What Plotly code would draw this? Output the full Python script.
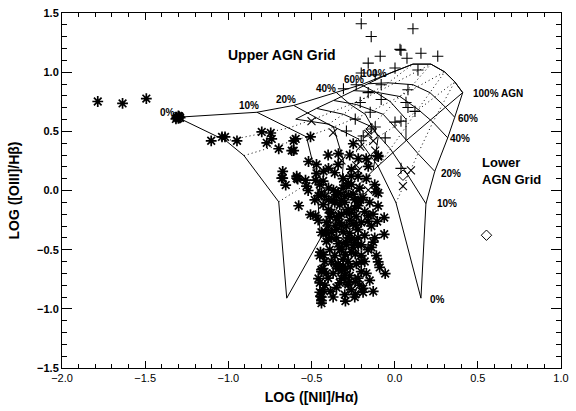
import plotly.graph_objects as go

# ---------------- data ----------------
# Upper AGN mixing grid: rows = starburst models, columns = AGN fraction 0,10,20,40,60,100 %
UPPER_X = [
    [-1.307, -0.828, -0.607, -0.350, -0.201, 0.110],
    [-1.014, -0.637, -0.470, -0.267, -0.111, 0.218],
    [-0.906, -0.530, -0.368, -0.177, -0.027, 0.301],
    [-0.697, -0.470, -0.308, -0.099, 0.068, 0.361],
    [-0.649, -0.446, -0.326, -0.129, 0.068, 0.409],
]
UPPER_Y = [
    [0.619, 0.661, 0.719, 0.827, 0.894, 1.068],
    [0.420, 0.528, 0.611, 0.727, 0.827, 1.068],
    [0.295, 0.453, 0.536, 0.644, 0.752, 1.002],
    [-0.096, 0.104, 0.254, 0.453, 0.603, 0.919],
    [-0.910, -0.411, -0.104, 0.170, 0.420, 0.827],
]
# Lower AGN mixing grid
LOWER_X = [
    [0.158, 0.188, 0.241, 0.319, 0.361, 0.409],
    [0.008, 0.080, 0.140, 0.230, 0.289, 0.361],
    [-0.099, -0.027, 0.038, 0.140, 0.212, 0.301],
    [-0.219, -0.147, -0.069, 0.032, 0.110, 0.218],
    [-0.398, -0.308, -0.231, -0.129, -0.039, 0.110],
    [-0.595, -0.470, -0.368, -0.249, -0.159, -0.027],
]
LOWER_Y = [
    [-0.910, -0.112, 0.162, 0.445, 0.619, 0.827],
    [-0.104, 0.129, 0.312, 0.578, 0.727, 0.919],
    [0.204, 0.353, 0.478, 0.686, 0.827, 1.002],
    [0.436, 0.544, 0.644, 0.794, 0.894, 1.068],
    [0.561, 0.644, 0.727, 0.835, 0.910, 1.068],
    [0.603, 0.694, 0.761, 0.844, 0.902, 0.993],
]

STAR_X = [-1.785, -1.636, -1.493, -1.310, -1.300, -1.295, -1.315, -1.300, -1.290,
          -1.103, -1.038, -1.020, -0.948, -0.799, -0.745, -0.739, -0.769, -0.697, -0.607,
          -0.619, -0.518, -0.673, -0.673, -0.655, -0.589, -0.536, -0.530,
          -0.595, -0.506, -0.607, -0.589, -0.476, -0.470, -0.428, -0.398, -0.398, -0.350,
          -0.290, -0.279, -0.219, -0.171, -0.159, -0.099, -0.099, -0.219, -0.320,
          -0.679, -0.583, -0.458, -0.577, -0.506, -0.476, -0.398, -0.380, -0.416, -0.398,
          -0.428, -0.440, -0.458, -0.446, -0.440, -0.296, -0.338, -0.320, -0.356, -0.290,
          -0.338, -0.440, -0.440, -0.446, -0.440, -0.386, -0.237, -0.189, -0.129, -0.201,
          -0.201, -0.099, -0.057, -0.129, -0.063, -0.105, -0.063, -0.219, -0.207, -0.279,
          -0.368, -0.398, -0.338, -0.261, -0.296, -0.356, -0.320, -0.279, -0.237, -0.380,
          -0.410, -0.320, -0.237, -0.201, -0.261, -0.159, -0.296, -0.219, -0.237, -0.296,
          -0.267, -0.360, -0.330, -0.300, -0.250, -0.240, -0.270, -0.310, -0.340, -0.280,
          -0.220, -0.180, -0.250, -0.310, -0.230, -0.270, -0.210, -0.330, -0.370, -0.420,
          -0.390, -0.410, -0.350, -0.430, -0.460, -0.480, -0.520, -0.450, -0.290, -0.200,
          -0.160, -0.140, -0.180, -0.100, -0.120, -0.170, -0.220, -0.260, -0.310, -0.360,
          -0.420, -0.440, -0.338, -0.249, -0.261, -0.111, -0.099,
          -0.42, -0.40, -0.38, -0.36, -0.34, -0.32, -0.30, -0.28, -0.26, -0.24,
          -0.22, -0.20, -0.18, -0.17, -0.22, -0.26, -0.30, -0.35, -0.40, -0.43,
          -0.45, -0.43, -0.44, -0.45, -0.37, -0.33, -0.29, -0.27, -0.25, -0.23,
          -0.28, -0.32, -0.35, -0.39, -0.37, -0.34, -0.31, -0.26, -0.21, -0.19,
          -0.15, -0.13, -0.16, -0.12, -0.14, -0.11, -0.09, -0.15, -0.19, -0.24,
          -0.28, -0.31, -0.35, -0.41, -0.45, -0.41, -0.38, -0.33, -0.30, -0.24,
          -0.47, -0.40, -0.34, -0.27, -0.43]
STAR_Y = [0.752, 0.736, 0.777, 0.620, 0.610, 0.625, 0.605, 0.630, 0.615,
          0.420, 0.453, 0.453, 0.420, 0.495, 0.486, 0.436, 0.403, 0.353, 0.420,
          0.337, 0.245, 0.162, 0.104, 0.046, 0.104, 0.087, 0.037,
          0.436, 0.453, 0.337, 0.121, 0.087, 0.145, 0.162, 0.187, 0.021, -0.037,
          0.046, -0.037, 0.270, 0.270, 0.204, 0.295, -0.021, -0.087, -0.087,
          0.104, 0.096, -0.046, -0.129, -0.204, -0.212, -0.079, -0.187, -0.353, -0.411,
          -0.544, -0.686, -0.744, -0.894, -0.952, -0.935, -0.661, -0.495, -0.295, -0.187,
          -0.021, -0.021, -0.353, -0.520, -0.669, -0.852, -0.877, -0.827, -0.852, -0.686,
          -0.603, -0.603, -0.702, -0.436, -0.370, -0.262, -0.229, -0.129, -0.079, 0.062,
          0.004, -0.162, -0.212, -0.411, -0.544, -0.628, -0.744, -0.794, -0.769, -0.353,
          -0.270, -0.295, -0.295, -0.270, -0.187, -0.212, -0.436, -0.461, -0.536, -0.661,
          -0.644, -0.100, -0.120, -0.050, -0.030, -0.150, -0.250, -0.350, -0.450, -0.400,
          -0.330, -0.380, -0.480, -0.580, -0.620, -0.720, -0.800, -0.780, -0.700, -0.600,
          -0.500, -0.430, -0.230, -0.120, -0.250, -0.080, 0.000, 0.050, -0.300, -0.550,
          -0.500, -0.300, -0.180, -0.130, 0.050, 0.100, 0.120, 0.180, 0.100, 0.150,
          -0.800, -0.900, 0.312, 0.395, 0.121, -0.012, 0.287,
          -0.05, -0.30, -0.40, -0.55, -0.62, -0.68, -0.72, -0.60, -0.52, -0.44,
          -0.40, -0.46, -0.60, -0.70, -0.74, -0.84, -0.88, -0.82, -0.74, -0.66,
          -0.78, -0.84, -0.93, -0.86, -0.90, -0.50, -0.46, -0.36, -0.28, -0.22,
          -0.16, -0.20, -0.33, -0.22, -0.08, -0.02, 0.02, 0.05, 0.02, -0.06,
          -0.10, -0.20, -0.26, -0.40, -0.48, -0.55, -0.65, -0.76, -0.86, -0.90,
          -0.78, -0.64, -0.40, -0.36, -0.55, -0.70, -0.60, -0.27, -0.10, -0.08,
          0.22, 0.30, 0.22, 0.30, 0.08]

PLUS_X = [-0.201, 0.110, -0.141, 0.032, 0.038, 0.074, 0.158, 0.259, -0.087, -0.159,
          0.002, -0.201, -0.117, 0.140, -0.308, -0.231, -0.159, -0.081, 0.080, -0.207,
          0.068, 0.080, -0.147, 0.122, -0.237, -0.290, 0.038, 0.002, -0.117, -0.189,
          -0.201, -0.057, -0.111, 0.038, -0.141, -0.081]
PLUS_Y = [1.409, 1.367, 1.301, 1.193, 1.185, 1.118, 1.160, 1.135, 1.135, 1.076,
          1.035, 0.993, 0.977, 1.018, 0.860, 0.894, 0.827, 0.894, 0.852, 0.744,
          0.744, 0.702, 0.661, 0.669, 0.603, 0.503, 0.586, 0.578, 0.536, 0.461,
          0.420, 0.445, 0.295, 0.187, 0.520, 0.769]

CROSS_X = [-0.500, -0.159, -0.129, -0.207, -0.117, -0.159, -0.219, -0.320, -0.308,
           -0.231, -0.159, -0.219, -0.111, 0.098, 0.050, -0.219, -0.370]
CROSS_Y = [0.586, 0.478, 0.420, 0.370, 0.337, 0.254, 0.170, 0.254, 0.104,
           0.212, 0.004, -0.004, 0.021, 0.170, 0.037, -0.079, 0.490]

DIAMOND_X = [0.050, 0.552, -0.141]
DIAMOND_Y = [0.129, -0.378, 0.520]

UPPER_LABELS = ["0%", "10%", "20%", "40%", "60%", "100%"]
UPPER_LABEL_X = [-1.366, -0.876, -0.655, -0.410, -0.243, -0.123]
UPPER_LABEL_Y = [0.661, 0.719, 0.769, 0.860, 0.935, 0.993]

LOWER_LABELS = ["0%", "10%", "20%", "40%", "60%", "100% AGN"]
LOWER_LABEL_X = [0.200, 0.241, 0.265, 0.319, 0.367, 0.457]
LOWER_LABEL_Y = [-0.918, -0.112, 0.145, 0.436, 0.611, 0.819]

# ---------------- figure ----------------
fig = go.Figure()
LINE = dict(color="black", width=1)
DOT = dict(color="black", width=1, dash="1px,3px")


def add_grid(gx, gy):
    nrow = len(gx)
    ncol = len(gx[0])
    for r in range(nrow):
        style = LINE if r in (0, nrow - 1) else DOT
        fig.add_trace(go.Scatter(x=gx[r], y=gy[r], mode="lines", line=style,
                                 hoverinfo="skip", showlegend=False))
    for c in range(ncol):
        fig.add_trace(go.Scatter(x=[gx[r][c] for r in range(nrow)],
                                 y=[gy[r][c] for r in range(nrow)],
                                 mode="lines", line=LINE,
                                 hoverinfo="skip", showlegend=False))


add_grid(UPPER_X, UPPER_Y)
add_grid(LOWER_X, LOWER_Y)

fig.add_trace(go.Scatter(x=STAR_X, y=STAR_Y, mode="markers", showlegend=False,
                         marker=dict(symbol="asterisk-open", size=9, color="black",
                                     line=dict(color="black", width=1.7))))
fig.add_trace(go.Scatter(x=PLUS_X, y=PLUS_Y, mode="markers", showlegend=False,
                         marker=dict(symbol="cross-thin-open", size=8, color="black",
                                     line=dict(color="black", width=1.1))))
fig.add_trace(go.Scatter(x=CROSS_X, y=CROSS_Y, mode="markers", showlegend=False,
                         marker=dict(symbol="x-thin-open", size=8, color="black",
                                     line=dict(color="black", width=1.1))))
fig.add_trace(go.Scatter(x=DIAMOND_X, y=DIAMOND_Y, mode="markers", showlegend=False,
                         marker=dict(symbol="diamond-open", size=8, color="black",
                                     line=dict(color="black", width=1))))

FAM = "Liberation Sans, Arial, sans-serif"
LBL_FONT = dict(family=FAM, size=10, color="black", weight="bold")
for t, x, y in zip(UPPER_LABELS, UPPER_LABEL_X, UPPER_LABEL_Y):
    fig.add_annotation(x=x, y=y, text=t, showarrow=False, font=LBL_FONT,
                       xanchor="center", yanchor="middle")
for t, x, y in zip(LOWER_LABELS, LOWER_LABEL_X, LOWER_LABEL_Y):
    fig.add_annotation(x=x, y=y, text=t, showarrow=False, font=LBL_FONT,
                       xanchor="left", yanchor="middle")

fig.add_annotation(x=-0.679, y=1.147, text="Upper AGN Grid", showarrow=False,
                   font=dict(family=FAM, size=14, color="black", weight="bold"),
                   xanchor="center", yanchor="middle")
fig.add_annotation(x=0.516, y=0.166, text="Lower<br>AGN Grid", showarrow=False,
                   font=dict(family=FAM, size=13, color="black", weight="bold"),
                   xanchor="left", yanchor="middle", align="left")

AX = dict(showline=True, linecolor="black", linewidth=1, mirror="allticks",
          ticks="inside", tickcolor="black", showgrid=False, zeroline=False,
          tickformat=".1f", ticklabeloverflow="allow")
fig.update_xaxes(range=[-2.0, 1.0], dtick=0.5, tick0=-2.0, ticklen=7, tickwidth=1,
                 minor=dict(dtick=0.1, ticklen=4, ticks="inside", tickcolor="black"),
                 tickfont=dict(family=FAM, size=11, color="black"),
                 title=dict(text="LOG ([NII]/Hα)", standoff=8,
                            font=dict(family=FAM, size=14, color="black", weight="bold")),
                 **AX)
fig.update_yaxes(range=[-1.5, 1.5], dtick=0.5, tick0=-1.5, ticklen=10, tickwidth=1,
                 minor=dict(dtick=0.1, ticklen=5, ticks="inside", tickcolor="black"),
                 tickfont=dict(family=FAM, size=11, color="black", weight="bold"),
                 title=dict(text="LOG ([OIII]/Hβ)", standoff=14,
                            font=dict(family=FAM, size=14, color="black", weight="bold")),
                 **AX)
fig.update_layout(width=576, height=411, margin=dict(l=62, r=12, t=7, b=43),
                  plot_bgcolor="white", paper_bgcolor="white", showlegend=False)
fig.write_html("out.html", config={"displayModeBar": False},
               post_script="document.body.style.margin='0';")
